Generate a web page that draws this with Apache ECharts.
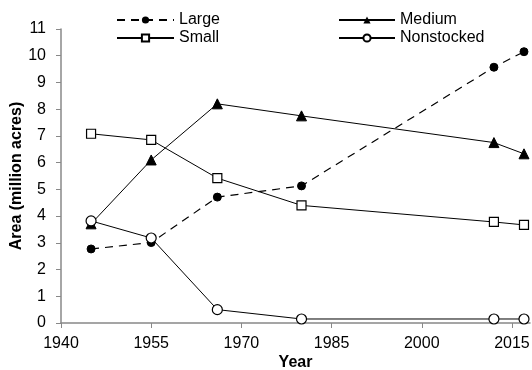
<!DOCTYPE html>
<html><head><meta charset="utf-8">
<script src="https://cdn.jsdelivr.net/npm/echarts@6/dist/echarts.min.js"></script>
<style>html,body{margin:0;padding:0;background:#fff}#c{width:532px;height:370px}</style>
</head><body><div id="c"></div>
<script>
var years = [1945, 1955, 1966, 1980, 2012, 2017];
var large = [2.77, 3.01, 4.71, 5.13, 9.57, 10.15];
var medium = [3.71, 6.1, 8.2, 7.75, 6.75, 6.33];
var small = [7.08, 6.85, 5.42, 4.4, 3.78, 3.67];
var nonstocked = [3.82, 3.18, 0.5, 0.15, 0.15, 0.15];

function pts(v){ return years.map(function(y,i){ return [y, v[i]]; }); }
var font = 'Liberation Sans, Arial, sans-serif';
var fs = 16;
var txt = {fontFamily: font, fontSize: fs, color: '#000'};
var chart = echarts.init(document.getElementById('c'));
chart.setOption({
  animation: false,
  grid: {left: 61, right: 2, top: 29, bottom: 47, containLabel: false, outerBoundsMode: 'none'},
  legend: [
    {data: ['Large','Small'], orient: 'vertical', left: 111, top: 7, itemWidth: 57, itemHeight: 9, itemGap: 2,
     textStyle: txt},
    {data: ['Medium','Nonstocked'], orient: 'vertical', left: 333, top: 7, itemWidth: 56, itemHeight: 9, itemGap: 2,
     textStyle: txt}
  ],
  xAxis: {
    type: 'value', min: 1940, max: 2018, interval: 15,
    name: 'Year', nameLocation: 'middle', nameGap: 32, nameMoveOverlap: false,
    nameTextStyle: {fontFamily: font, fontSize: fs, fontWeight: 'bold', color: '#000'},
    axisLine: {lineStyle: {color: '#888', width: 1.5}},
    axisTick: {show: true, length: 5, inside: false, lineStyle: {color: '#888'}},
    axisLabel: {fontFamily: font, fontSize: fs, color: '#000', showMaxLabel: false, margin: 13,
      formatter: function(v){ return String(v); }},
    splitLine: {show: false}
  },
  yAxis: {
    type: 'value', min: 0, max: 11, interval: 1,
    name: 'Area (million acres)', nameLocation: 'middle', nameGap: 36, nameRotate: 90, nameMoveOverlap: false,
    nameTextStyle: {fontFamily: font, fontSize: fs, fontWeight: 'bold', color: '#000'},
    axisLine: {show: true, lineStyle: {color: '#888', width: 1.5}},
    axisTick: {show: true, length: 5, lineStyle: {color: '#888'}},
    axisLabel: {fontFamily: font, fontSize: fs, color: '#000', margin: 15},
    splitLine: {show: false}
  },
  series: [
    {name: 'Large', type: 'line', data: pts(large), symbol: 'circle', symbolSize: 8,
     lineStyle: {color: '#000', width: 1.2, type: [8, 6]}, itemStyle: {color: '#000', borderColor: '#000'}},
    {name: 'Medium', type: 'line', data: pts(medium), symbol: 'triangle', symbolSize: 10,
     lineStyle: {color: '#000', width: 1}, itemStyle: {color: '#000', borderColor: '#000'}},
    {name: 'Small', type: 'line', data: pts(small), symbol: 'rect', symbolSize: 9,
     lineStyle: {color: '#000', width: 1}, itemStyle: {color: '#fff', borderColor: '#000', borderWidth: 1.2}},
    {name: 'Nonstocked', type: 'line', data: pts(nonstocked), symbol: 'circle', symbolSize: 10,
     lineStyle: {color: '#000', width: 1}, itemStyle: {color: '#fff', borderColor: '#000', borderWidth: 1.2}}
  ]
});
</script></body></html>
